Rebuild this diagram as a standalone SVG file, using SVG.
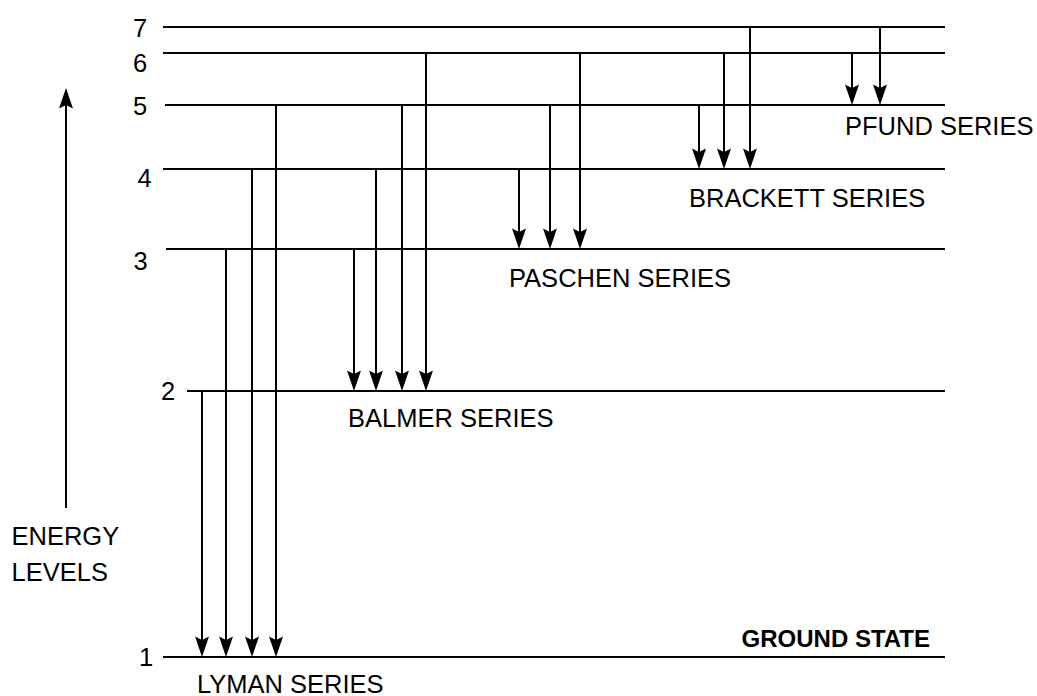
<svg xmlns="http://www.w3.org/2000/svg" width="1037" height="696" viewBox="0 0 1037 696">
<style>
.lvl{stroke:#000;stroke-width:2;fill:none}
.arr{stroke:#000;stroke-width:2;fill:none;marker-end:url(#ah)}
text{font-family:"Liberation Sans",Arial,sans-serif;font-size:25.5px;fill:#000}
.num{text-anchor:middle}
.bold{font-weight:bold;font-size:24px;text-anchor:end}
</style>
<defs>
<marker id="ah" viewBox="-11 -8 22 16" refX="0" refY="0" markerWidth="22" markerHeight="16" markerUnits="userSpaceOnUse" orient="auto">
<path d="M10,0 L-10.5,-7 L-7,0 L-10.5,7 Z" fill="#000"/>
</marker>
</defs>
<rect width="1037" height="696" fill="#fff"/>
<g id="level7"><line class="lvl" x1="163" y1="27" x2="945" y2="27"/><text class="num" x="140" y="36.5">7</text></g>
<g id="level6"><line class="lvl" x1="163" y1="53" x2="945" y2="53"/><text class="num" x="140" y="71.5">6</text></g>
<g id="level5"><line class="lvl" x1="165" y1="105" x2="945" y2="105"/><text class="num" x="140" y="114.5">5</text></g>
<g id="level4"><line class="lvl" x1="163" y1="169" x2="945" y2="169"/><text class="num" x="144.5" y="187">4</text></g>
<g id="level3"><line class="lvl" x1="166" y1="249" x2="945" y2="249"/><text class="num" x="140.5" y="270">3</text></g>
<g id="level2"><line class="lvl" x1="187" y1="391" x2="945" y2="391"/><text class="num" x="168" y="400">2</text></g>
<g id="level1"><line class="lvl" x1="163" y1="657" x2="945" y2="657"/><text class="num" x="146" y="665.5">1</text></g>
<g id="ground-state"><text class="bold" x="930" y="646.5">GROUND STATE</text></g>
<g id="energy-axis"><line class="arr" x1="66" y1="508" x2="66" y2="98"/><text x="11.5" y="545">ENERGY</text><text x="11.5" y="581">LEVELS</text></g>
<g id="lyman-label"><text x="197" y="693">LYMAN SERIES</text></g>
<g id="balmer-label"><text x="348" y="426.5">BALMER SERIES</text></g>
<g id="paschen-label"><text x="509" y="286.5">PASCHEN SERIES</text></g>
<g id="brackett-label"><text x="689" y="206.5">BRACKETT SERIES</text></g>
<g id="pfund-label"><text x="845" y="135">PFUND SERIES</text></g>
<g id="connectors">
<line class="arr" x1="202" y1="391" x2="202" y2="647"/>
<line class="arr" x1="226" y1="249" x2="226" y2="647"/>
<line class="arr" x1="252" y1="169" x2="252" y2="647"/>
<line class="arr" x1="276" y1="105" x2="276" y2="647"/>
<line class="arr" x1="354" y1="249" x2="354" y2="381"/>
<line class="arr" x1="376" y1="169" x2="376" y2="381"/>
<line class="arr" x1="402" y1="105" x2="402" y2="381"/>
<line class="arr" x1="426" y1="53" x2="426" y2="381"/>
<line class="arr" x1="519" y1="169" x2="519" y2="239"/>
<line class="arr" x1="550" y1="105" x2="550" y2="239"/>
<line class="arr" x1="580" y1="53" x2="580" y2="239"/>
<line class="arr" x1="699" y1="105" x2="699" y2="159"/>
<line class="arr" x1="724" y1="53" x2="724" y2="159"/>
<line class="arr" x1="750" y1="27" x2="750" y2="159"/>
<line class="arr" x1="852" y1="53" x2="852" y2="95"/>
<line class="arr" x1="880" y1="27" x2="880" y2="95"/>
</g>
</svg>
